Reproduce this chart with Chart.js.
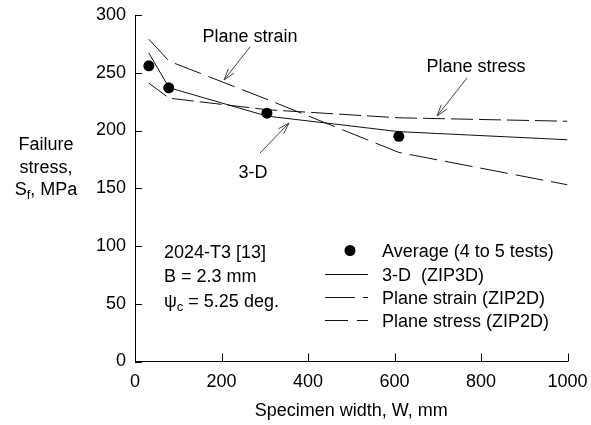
<!DOCTYPE html>
<html>
<head>
<meta charset="utf-8">
<script src="https://cdn.jsdelivr.net/npm/chart.js@4/dist/chart.umd.min.js"></script>
<style>
  html, body { margin: 0; padding: 0; background: #fff; }
  #wrap { width: 591px; height: 425px; }
</style>
</head>
<body>
<div id="wrap"><canvas id="chart" width="591" height="425"></canvas></div>
<script>
// test averages
const testWidths = [32, 78, 305, 610];
const testStress = [256, 237, 215, 195];

// analyses (ZIP3D / ZIP2D)
const modelWidths = [32, 79, 305, 610, 1000];
const stress3D = [267, 237, 212.5, 199, 192];
const stressPlaneStrain = [279, 260, 227, 181, 153];
const stressPlaneStress = [241, 228, 218, 211, 208];

const xTicks = [0, 200, 400, 600, 800, 1000];
const yTicks = [0, 50, 100, 150, 200, 250, 300];

const FONT = '"Liberation Sans", Arial, Helvetica, sans-serif';
const INK = '#111';

function pairs(xs, ys) {
    return xs.map((v, i) => ({ x: v, y: ys[i] }));
}

function arrow(ctx, x1, y1, x2, y2) {
    //line plus open head at (x2, y2)
    const a = Math.atan2(y2 - y1, x2 - x1);
    const len = 12, spread = 0.3;
    ctx.beginPath();
    ctx.moveTo(x1, y1);
    ctx.lineTo(x2, y2);
    ctx.moveTo(x2 - len * Math.cos(a - spread), y2 - len * Math.sin(a - spread));
    ctx.lineTo(x2, y2);
    ctx.lineTo(x2 - len * Math.cos(a + spread), y2 - len * Math.sin(a + spread));
    ctx.stroke();
}

function subText(ctx, parts, x, y, align) {
    //parts: [text, isSub]
    const widths = parts.map(p => {
        ctx.font = (p[1] ? '13px ' : '18px ') + FONT;
        return ctx.measureText(p[0]).width;
    });
    const total = widths.reduce((a, b) => a + b, 0);
    let cx = align === 'center' ? x - total / 2 : x;
    ctx.textAlign = 'left';
    parts.forEach((p, i) => {
        ctx.font = (p[1] ? '13px ' : '18px ') + FONT;
        ctx.fillText(p[0], cx, p[1] ? y + 4 : y);
        cx += widths[i];
    });
}

const extras = {
    id: 'extras',
    afterDraw(chart) {
        const { ctx, scales: { x, y } } = chart;
        ctx.save();
        ctx.strokeStyle = '#000';
        ctx.fillStyle = '#000';
        ctx.lineWidth = 1;

        //inward tick marks
        xTicks.forEach(v => {
            const px = Math.round(x.getPixelForValue(v)) + 0.5;
            ctx.beginPath();
            ctx.moveTo(px, y.bottom);
            ctx.lineTo(px, y.bottom - 8);
            ctx.stroke();
        });
        yTicks.forEach(v => {
            const py = Math.round(y.getPixelForValue(v)) + 0.5;
            ctx.beginPath();
            ctx.moveTo(x.left, py);
            ctx.lineTo(x.left + 7, py);
            ctx.stroke();
        });

        //y axis title
        ctx.textBaseline = 'alphabetic';
        ctx.font = '18px ' + FONT;
        ctx.textAlign = 'center';
        ctx.fillText('Failure', 46, 150);
        ctx.fillText('stress,', 46, 173);
        subText(ctx, [['S', false], ['f', true], [', MPa', false]], 46, 195, 'center');

        //curve labels
        ctx.font = '18px ' + FONT;
        ctx.textAlign = 'center';
        ctx.fillText('Plane strain', 250, 42);
        ctx.fillText('Plane stress', 476, 72);
        ctx.fillText('3-D', 253, 178);
        ctx.strokeStyle = '#444';
        arrow(ctx, 250, 47, 224, 80);
        arrow(ctx, 467, 78, 437, 116);
        arrow(ctx, 260, 153, 289, 123);

        //material block
        ctx.fillStyle = '#000';
        ctx.textAlign = 'left';
        ctx.fillText('2024-T3 [13]', 164, 258);
        ctx.fillText('B = 2.3 mm', 164, 282);
        subText(ctx, [['\u03C8', false], ['c', true], [' = 5.25 deg.', false]], 164, 307, 'left');

        //legend
        const lx1 = 325, lx2 = 368, tx = 382;
        ctx.beginPath();
        ctx.arc(350, 250.5, 5.5, 0, Math.PI * 2);
        ctx.fill();
        ctx.font = '18px ' + FONT;
        ctx.textAlign = 'left';
        ctx.fillText('Average (4 to 5 tests)', tx, 257);
        ctx.fillText('3-D  (ZIP3D)', tx, 281);
        ctx.fillText('Plane strain (ZIP2D)', tx, 304);
        ctx.fillText('Plane stress (ZIP2D)', tx, 327);

        ctx.strokeStyle = INK;
        ctx.lineWidth = 1;
        const rows = [[274.5, []], [297.5, [30, 8, 5, 100]], [320.5, [23, 9, 12, 100]]];
        rows.forEach(r => {
            ctx.setLineDash(r[1]);
            ctx.beginPath();
            ctx.moveTo(lx1, r[0]);
            ctx.lineTo(lx2, r[0]);
            ctx.stroke();
        });
        ctx.setLineDash([]);
        ctx.restore();
    }
};

const ctx = document.getElementById('chart').getContext('2d');
new Chart(ctx, {
    type: 'scatter',
    data: {
        datasets: [
            {
                label: 'Average (4 to 5 tests)',
                data: pairs(testWidths, testStress),
                pointRadius: 5.5,
                pointBackgroundColor: '#000',
                pointBorderWidth: 0,
                showLine: false
            },
            {
                label: '3-D (ZIP3D)',
                data: pairs(modelWidths, stress3D),
                showLine: true,
                borderColor: INK,
                borderWidth: 1,
                pointRadius: 0
            },
            {
                label: 'Plane strain (ZIP2D)',
                data: pairs(modelWidths, stressPlaneStrain),
                showLine: true,
                borderColor: INK,
                borderWidth: 1,
                borderDash: [28, 8],
                pointRadius: 0
            },
            {
                label: 'Plane stress (ZIP2D)',
                data: pairs(modelWidths, stressPlaneStress),
                showLine: true,
                borderColor: INK,
                borderWidth: 1,
                borderDash: [22, 6],
                pointRadius: 0
            }
        ]
    },
    options: {
        responsive: false,
        animation: false,
        layout: { padding: { left: 0, right: 23.5, top: 15, bottom: 0 } },
        plugins: {
            legend: { display: false },
            tooltip: { enabled: false }
        },
        scales: {
            x: {
                type: 'linear',
                min: 0,
                max: 1000,
                afterFit: s => { s.height = 63.5; },
                afterBuildTicks: s => { s.ticks = xTicks.map(v => ({ value: v })); },
                //invisible tick marks just push the labels down
                grid: { display: true, drawOnChartArea: false, drawTicks: true, tickLength: 10, tickColor: 'rgba(0,0,0,0)' },
                border: { display: true, color: '#000', width: 1 },
                ticks: {
                    color: '#000', padding: 0, maxRotation: 0,
                    font: { family: FONT, size: 18 },
                    callback: v => String(v)
                },
                title: {
                    display: true,
                    text: 'Specimen width, W, mm',
                    color: '#000',
                    font: { family: FONT, size: 18 },
                    padding: { top: 0, bottom: 3 }
                }
            },
            y: {
                type: 'linear',
                min: 0,
                max: 300,
                afterFit: s => { s.width = 135; },
                afterBuildTicks: s => { s.ticks = yTicks.map(v => ({ value: v })); },
                grid: { display: true, drawOnChartArea: false, drawTicks: true, tickLength: 9, tickColor: 'rgba(0,0,0,0)' },
                border: { display: true, color: '#000', width: 1 },
                ticks: { color: '#000', padding: 0, font: { family: FONT, size: 18 } }
            }
        }
    },
    plugins: [extras]
});
</script>
</body>
</html>
